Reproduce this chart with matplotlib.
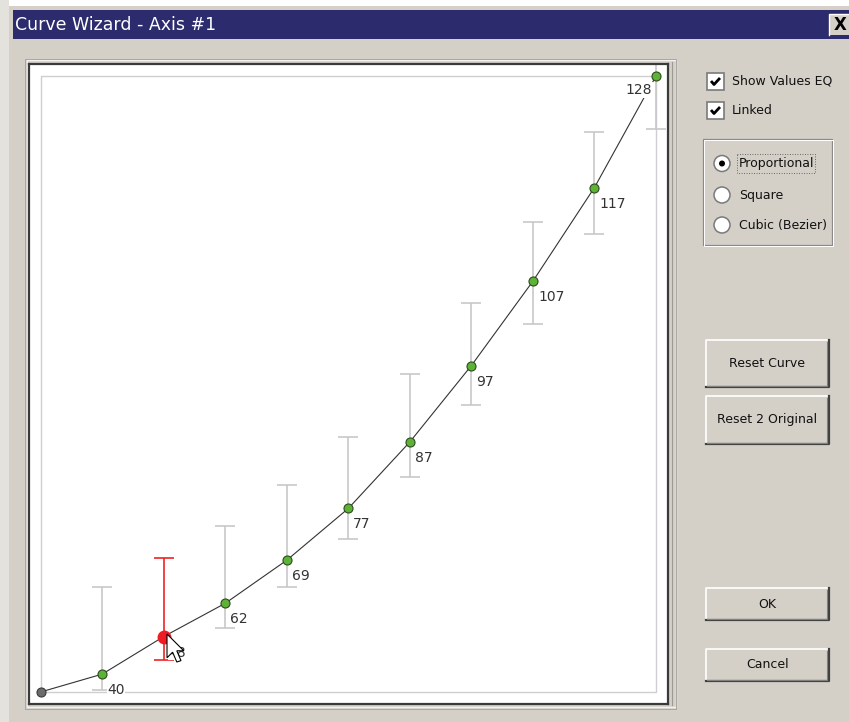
import matplotlib
matplotlib.use("Agg")
import matplotlib.pyplot as plt
from matplotlib.patches import Rectangle, Circle, Polygon

plt.rcParams['font.family'] = ['DejaVu Sans']

# curve points (step index, output level in % of the range)
steps = [0, 1, 2, 3, 4, 5, 6, 7, 8, 9, 10]
curve_y = [0, 2.9, 9.0, 14.4, 21.4, 29.8, 40.6, 53.0, 66.7, 81.9, 100]
# allowed range for each point (grey bars)
bar_low = [None, 0.3, 5.2, 10.4, 17.0, 24.8, 34.9, 46.6, 59.7, 74.4, 91.4]
bar_high = [None, 17.0, 21.8, 26.9, 33.6, 41.4, 51.6, 63.1, 76.3, 90.9, 108.0]
value_labels = ['', '40', '48', '62', '69', '77', '87', '97', '107', '117', '128']
selected = 2

W, H = 849, 722
WIN = '#d4d0c8'

fig = plt.figure(figsize=(W / 100, H / 100), dpi=100)
fig.patch.set_facecolor(WIN)

# --- dialog chrome, drawn in pixel coords ---
ui = fig.add_axes([0, 0, 1, 1], zorder=0)
ui.set_xlim(0, W)
ui.set_ylim(H, 0)
ui.axis('off')

ui.add_patch(Rectangle((0, 0), W, 6, fc='white', ec='none'))
ui.add_patch(Rectangle((0, 0), 9, H, fc='#e4e2dd', ec='none'))
ui.add_patch(Rectangle((9, 6), W - 9, H - 6, fc=WIN, ec='none'))
ui.add_patch(Rectangle((13, 10), W - 13, 29, fc='#2b2b6d', ec='none'))
ui.text(15, 25, 'Curve Wizard - Axis #1', color='white', fontsize=12.5,
        ha='left', va='center')
# close button
ui.add_patch(Rectangle((829, 14), 22, 21, fc=WIN, ec='none'))
ui.plot([829, 829, 849], [35, 14, 14], color='white', lw=1)
ui.text(840, 25, 'X', fontsize=12, fontweight='bold', ha='center', va='center')

# etched frame round the curve panel
ui.add_patch(Rectangle((27, 60), 649, 647, fill=False, ec='#f2f2f2', lw=1))
ui.add_patch(Rectangle((25.5, 58.5), 651, 650, fill=False, ec='#a8a6a0', lw=0.7))
ui.plot([672, 672], [62, 705], color='#9c9a94', lw=0.8)


def checkbox(y, label):
    ui.add_patch(Rectangle((707, y), 17, 17, fc='white', ec='#7a7a7a', lw=1.2))
    ui.plot([711, 714, 720], [y + 8, y + 11.5, y + 5], color='black', lw=2.0,
            solid_capstyle='butt')
    ui.text(732, y + 8.5, label, fontsize=9, color='#111111', ha='left', va='center')


checkbox(73, 'Show Values EQ')
checkbox(102, 'Linked')

# radio group
ui.add_patch(Rectangle((703, 139), 129, 106, fill=False, ec='#8a8a8a', lw=0.9))
ui.add_patch(Rectangle((704, 140), 129, 106, fill=False, ec='white', lw=0.7))
radio_labels = ['Proportional', 'Square', 'Cubic (Bezier)']
radio_y = [163.5, 195, 225]
for i, (lab, ry) in enumerate(zip(radio_labels, radio_y)):
    ui.add_patch(Circle((722, ry), 8, fc='white', ec='#7a7a7a', lw=1.1))
    if i == 0:
        ui.add_patch(Circle((722, ry), 3, fc='black', ec='none'))
    ui.text(739, ry, lab, fontsize=9, color='#111111', ha='left', va='center')
ui.add_patch(Rectangle((737, 154), 78, 19, fill=False, ec='#444444', lw=0.6,
                       linestyle=(0, (1, 2))))


def button(x, y, w, h, label):
    ui.add_patch(Rectangle((x, y), w, h, fc=WIN, ec='none'))
    ui.plot([x, x, x + w], [y + h, y, y], color='white', lw=1.2)
    ui.plot([x, x + w, x + w], [y + h, y + h, y], color='#404040', lw=1.6)
    ui.plot([x + 1.5, x + w - 1.5, x + w - 1.5], [y + h - 1.5, y + h - 1.5, y + 1.5],
            color='#808080', lw=0.8)
    ui.text(x + w / 2, y + h / 2, label, fontsize=9, color='#111111',
            ha='center', va='center')


button(706, 340, 123, 47, 'Reset Curve')
button(706, 396, 123, 48, 'Reset 2 Original')
button(706, 588, 123, 32, 'OK')
button(706, 649, 123, 32, 'Cancel')

# --- curve panel ---
ax = fig.add_axes([29 / W, 1 - 704 / H, 639 / W, 640 / H], zorder=1)
ax.set_facecolor('white')
ax.set_xlim(-0.190, 10.195)
ax.set_ylim(-1.95, 101.95)
ax.set_xticks([])
ax.set_yticks([])
for sp in ax.spines.values():
    sp.set_color('#3a3a3a')
    sp.set_linewidth(1.6)

ax.add_patch(Rectangle((0, 0), 10, 100, fill=False, ec='#cfcfcf', lw=1.0, zorder=1))

for i in range(1, len(steps)):
    col = '#ee2222' if i == selected else '#c8c8c8'
    ax.errorbar([steps[i]], [curve_y[i]],
                yerr=[[curve_y[i] - bar_low[i]], [bar_high[i] - curve_y[i]]],
                fmt='none', ecolor=col, elinewidth=1.2, capsize=7.2, capthick=1.2,
                zorder=1.5)

ax.plot(steps, curve_y, color='#333333', lw=0.8, zorder=2)

for i in range(1, len(steps)):
    if i == len(steps) - 1:
        off, ha = (-4, -14), 'right'
    else:
        off, ha = (5, -16), 'left'
    ax.annotate(value_labels[i], (steps[i], curve_y[i]), xytext=off,
                textcoords='offset pixels', ha=ha, va='center', fontsize=10,
                color='#333333', zorder=3,
                bbox=dict(boxstyle='square,pad=0.05', fc='white', ec='none'))

green = [i for i in range(1, len(steps)) if i != selected]
ax.plot([steps[i] for i in green], [curve_y[i] for i in green], 'o', ms=6.5,
        mfc='#5cb336', mec='#2d4a1f', mew=0.8, zorder=4)
ax.plot([steps[0]], [curve_y[0]], 'o', ms=6.5, mfc='#6b6b6b', mec='#3a3a3a',
        mew=0.8, zorder=4)
ax.plot([steps[selected]], [curve_y[selected]], 'o', ms=9, mfc='#ee1c24',
        mec='#ee1c24', zorder=4)

# mouse pointer on top of everything
top = fig.add_axes([0, 0, 1, 1], zorder=5)
top.set_xlim(0, W)
top.set_ylim(H, 0)
top.axis('off')
top.patch.set_alpha(0)
tx, ty, sc = 167, 634, 1.4
arrow = [(0, 0), (0, 17), (4, 13), (7, 20), (10, 19), (7, 12), (12, 12)]
top.add_patch(Polygon([(tx + a * sc, ty + b * sc) for a, b in arrow], closed=True,
                      fc='white', ec='black', lw=0.8))

fig.savefig('out.png', dpi=100, facecolor=fig.get_facecolor())
